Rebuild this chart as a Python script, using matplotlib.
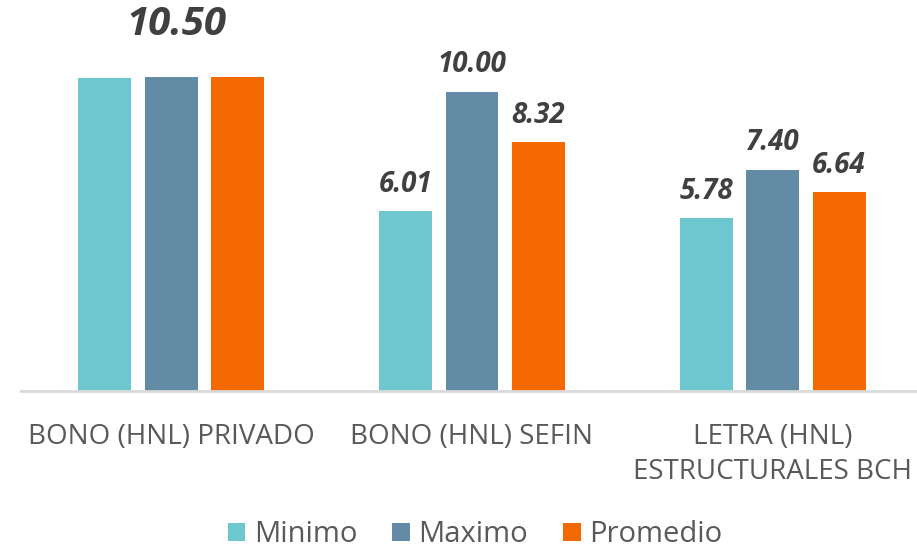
import numpy as np
import matplotlib
matplotlib.use('Agg')
import matplotlib.pyplot as plt

# Data
categories = ['BONO (HNL) PRIVADO', 'BONO (HNL) SEFIN', 'LETRA (HNL)\nESTRUCTURALES BCH']
series_names = ['Minimo', 'Maximo', 'Promedio']
minimo = [10.45, 6.01, 5.78]
maximo = [10.50, 10.00, 7.40]
promedio = [10.50, 8.32, 6.64]

colors = ['#6DC7CE', '#638BA5', '#F56A00']
label_color = '#404040'
text_color = '#595959'

plt.rcParams['font.family'] = ['Open Sans', 'DejaVu Sans']

fig = plt.figure(figsize=(9.17, 5.48), dpi=100)
ax = fig.add_axes([21 / 917, (548 - 391) / 548, (923 - 21) / 917, (391 - 32) / 548])

x = np.arange(len(categories))
width = 0.176
offset = 0.221

all_series = [minimo, maximo, promedio]
for i, (name, vals, col) in enumerate(zip(series_names, all_series, colors)):
    pos = x + (i - 1) * offset
    bars = ax.bar(pos, vals, width, color=col, label=name, zorder=2)
    for j, (b, v) in enumerate(zip(bars, vals)):
        if j == 0:
            continue  # first group only has a single shared label
        ax.annotate(f'{v:.2f}', (b.get_x() + b.get_width() / 2, v),
                    xytext=(0, 14), textcoords='offset points',
                    ha='center', va='baseline', fontsize=20,
                    fontweight='bold', fontstyle='italic', color=label_color)

# shared label over the first group
ax.annotate(f'{maximo[0]:.2f}', (x[0], maximo[0]),
            xytext=(4, 30), textcoords='offset points',
            ha='center', va='baseline', fontsize=29,
            fontweight='bold', fontstyle='italic', color=label_color)

ax.set_xlim(-0.5, 2.5)
ax.set_ylim(0, 12)
ax.set_yticks([])
ax.set_xticks(x)
ax.set_xticklabels(categories, fontsize=20, color=text_color, linespacing=1.35)
ax.tick_params(axis='x', length=0, pad=23)

for s in ['top', 'right', 'left']:
    ax.spines[s].set_visible(False)
ax.spines['bottom'].set_color('#D9D9D9')
ax.spines['bottom'].set_linewidth(2)

leg = fig.legend(loc='center', bbox_to_anchor=(0.518, 0.024), ncol=3, frameon=False,
                 fontsize=21, handlelength=0.6, handleheight=0.6, handletextpad=0.3,
                 columnspacing=1.2)
for t in leg.get_texts():
    t.set_color(text_color)

fig.savefig('out.png', dpi=100)
